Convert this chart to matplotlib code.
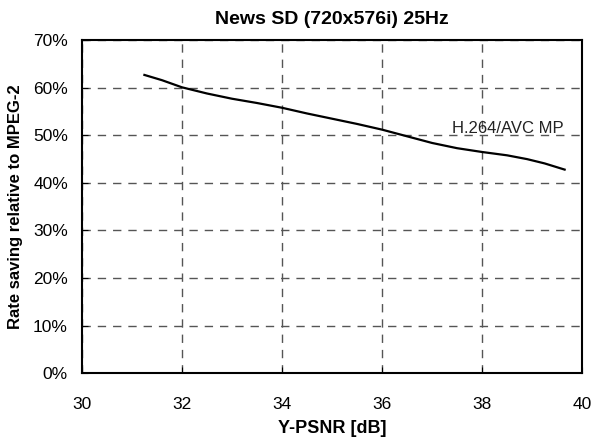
import matplotlib.pyplot as plt
from matplotlib.ticker import FuncFormatter

# Y-PSNR [dB] vs rate saving relative to MPEG-2 (%)
psnr = [31.25, 31.6, 32.0, 32.5, 33.0, 33.5, 34.0, 34.5, 35.0, 35.5, 36.0, 36.5, 37.0, 37.5, 38.0, 38.5, 38.9, 39.25, 39.65]
saving = [62.7, 61.6, 60.1, 58.8, 57.7, 56.8, 55.8, 54.6, 53.5, 52.4, 51.2, 49.8, 48.4, 47.3, 46.5, 45.8, 45.0, 44.1, 42.8]
label = "H.264/AVC MP"

plt.rcParams['font.family'] = ['Liberation Sans', 'DejaVu Sans']

fig = plt.figure(figsize=(6.02, 4.37), dpi=100)
ax = fig.add_axes([0.136, 0.146, 0.831, 0.762])

ax.plot(psnr, saving, color="black", linewidth=1.6)
ax.text(37.4, 49.9, label, fontsize=12, color="#222222", ha="left", va="bottom")

ax.set_xlim(30, 40)
ax.set_ylim(0, 70)
ax.set_xticks(range(30, 41, 2))
ax.set_yticks(range(0, 71, 10))
ax.yaxis.set_major_formatter(FuncFormatter(lambda v, p: "%d%%" % v))
ax.grid(True, linestyle=(0, (6, 5)), color="#555555", linewidth=1.0)
ax.tick_params(direction="in", length=4, labelsize=12.5)
ax.tick_params(axis="x", pad=17)
ax.tick_params(axis="y", pad=10)
for s in ax.spines.values():
    s.set_linewidth(1.5)

ax.set_title("News SD (720x576i) 25Hz", fontsize=14, fontweight="bold", pad=12)
ax.set_xlabel("Y-PSNR [dB]", fontsize=13, fontweight="bold", labelpad=6)
ax.set_ylabel("Rate saving relative to MPEG-2", fontsize=12, fontweight="bold", labelpad=7)

fig.savefig("out.png", dpi=100)
